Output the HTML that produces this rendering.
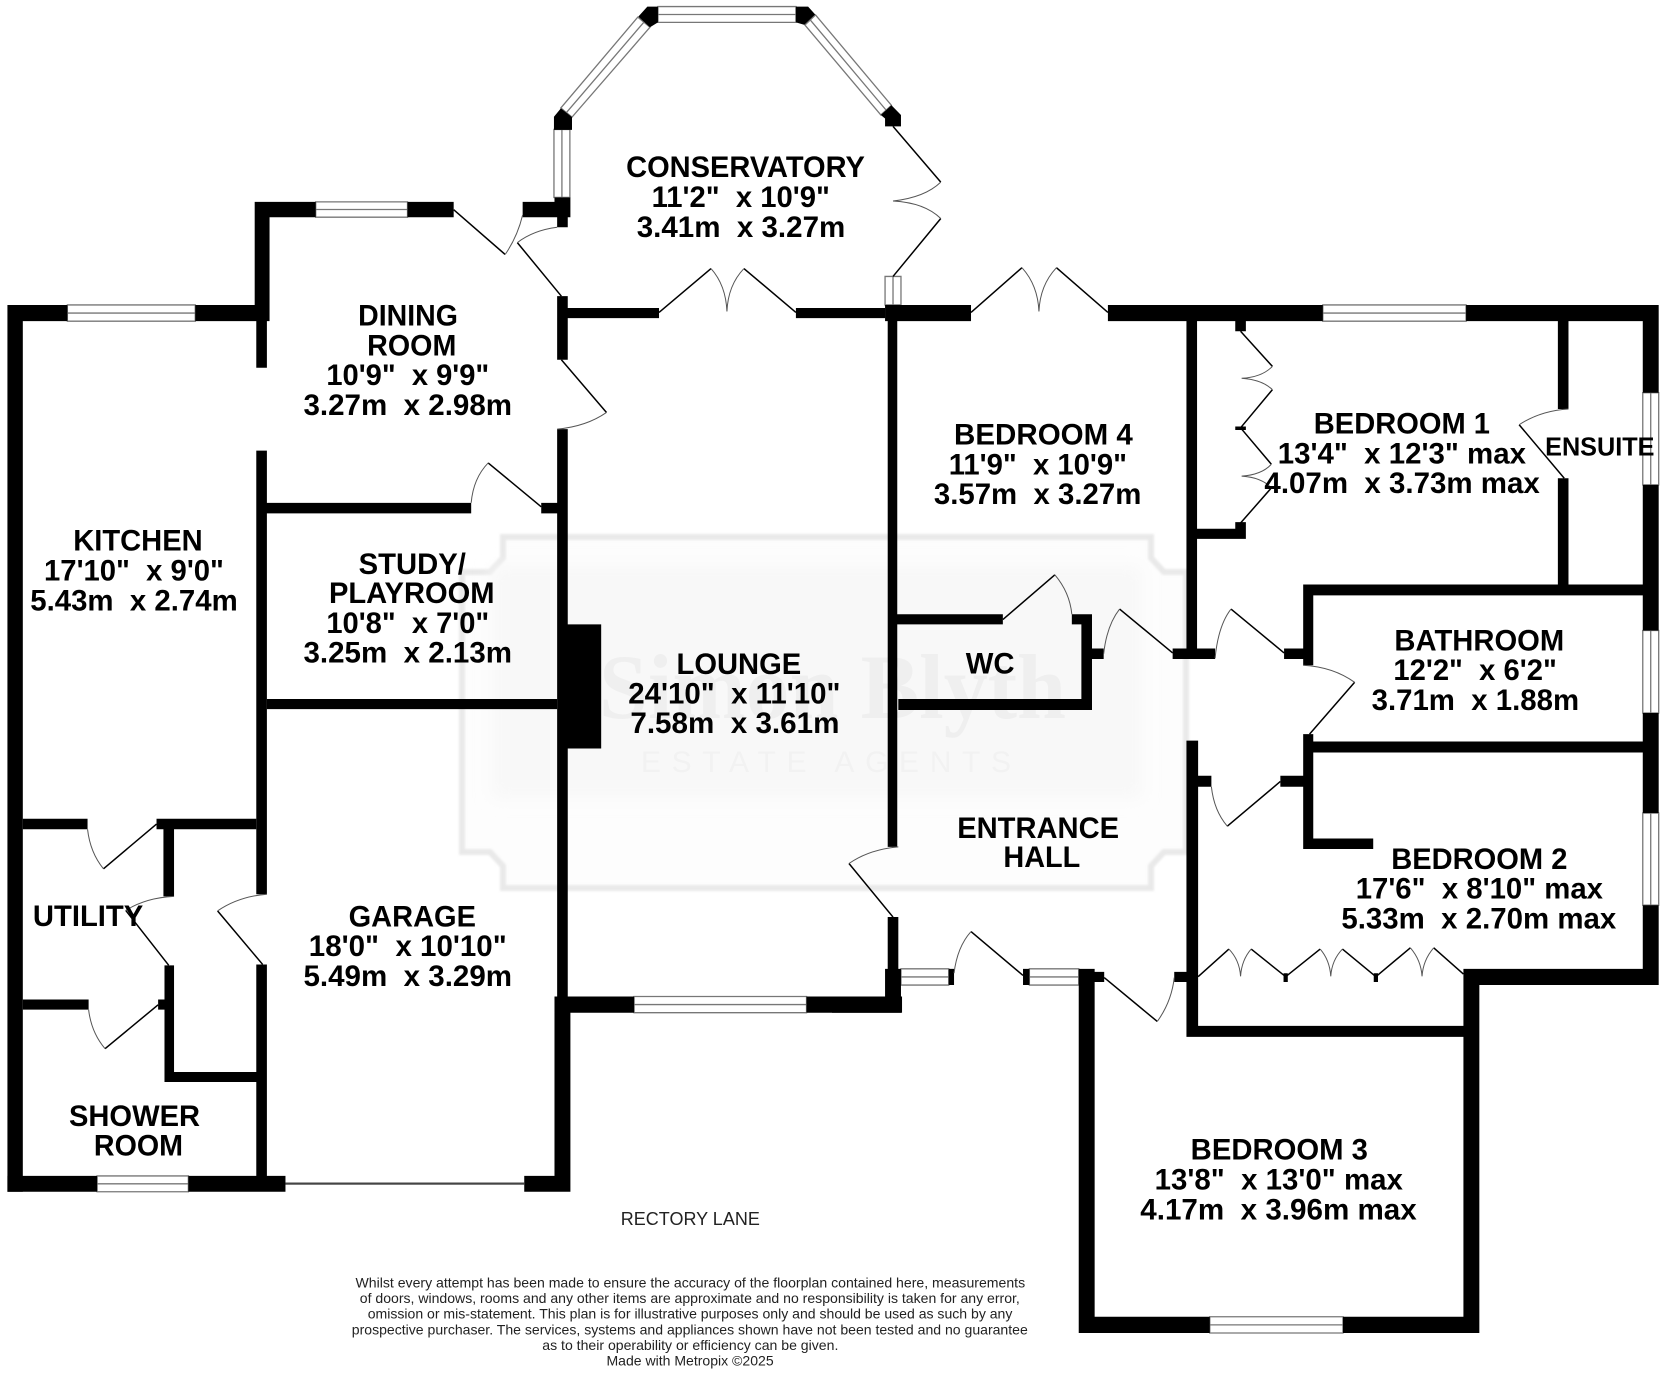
<!DOCTYPE html>
<html><head><meta charset="utf-8"><title>Floorplan</title>
<style>
html,body{margin:0;padding:0;background:#fff}
svg{display:block}
text{font-family:"Liberation Sans",sans-serif}
.t{font-size:68px;font-weight:700;fill:#000}
.e{font-size:60px;font-weight:700;fill:#000}
.d{font-size:32px;fill:#222}
.r{font-size:42px;fill:#222}
.lf{fill:none;stroke:#000;stroke-width:1.5;vector-effect:non-scaling-stroke}
.ar{fill:none;stroke:#555;stroke-width:1;vector-effect:non-scaling-stroke}
.wn{fill:#fff;stroke:#777;stroke-width:1.3;vector-effect:non-scaling-stroke}
</style></head><body>
<svg xmlns="http://www.w3.org/2000/svg" width="1664" height="1376" viewBox="0 0 1664 1376">
<defs><filter id="b1" x="-5%" y="-5%" width="110%" height="110%"><feGaussianBlur stdDeviation="1"/></filter>
<filter id="b2" x="-10%" y="-10%" width="120%" height="120%"><feGaussianBlur stdDeviation="8"/></filter></defs>
<rect width="1664" height="1376" fill="#fff"/>
<!-- watermark -->
<g>
<path d="M503 537H1151V558L1164 572H1186V852H1164L1151 866V888H503V866L490 852H462V572H490L503 558Z" fill="#fdfdfd" stroke="#e9e9e9" stroke-width="6" filter="url(#b1)"/>
<rect x="492" y="566" width="650" height="232" fill="#f8f8f8" filter="url(#b2)"/>
<text x="599" y="718" font-size="92" font-weight="700" textLength="467" lengthAdjust="spacingAndGlyphs" style="font-family:'Liberation Serif',serif" fill="#efefef">Simon Blyth</text>
<text x="641" y="772" font-size="30" textLength="370" lengthAdjust="spacing" fill="#f2f2f2">ESTATE AGENTS</text>
</g>
<g transform="scale(.53061,.43878)">
<!-- Q1 -->
<g>
<path class="wn" d="M1240 15H1500V51H1240ZM1240 33H1500"/>
<path class="wn" d="M1202 39L1225 62L1078 267L1057 246ZM1213.500 50.500L1067.500 256.500"/>
<path class="wn" d="M1044 295H1074V450H1044ZM1059 295V450"/>
<path class="wn" d="M595 460H768V495H595ZM595 477.500H768"/>
<path class="wn" d="M127 695H368V732H127ZM127 713.500H368"/>
<path fill="#000" d="M1203 38L1220 15H1240V51L1225 62Z M1500 15H1523L1537 34L1517 57L1500 51Z
M1057 247L1078 267V296H1044V266Z M1045 450H1075V495H1045Z M985 460H1060V495H985Z M1050 495H1070V518H1050Z
M1050 675H1070V820H1050Z M1070 702H1242V725H1070Z M1500 702H1668V725H1500Z
M480 460H595V495H480Z M768 460H855V495H768Z M480 460H508V730H480Z
M14 695H127V732H14Z M368 695H508V732H368Z M14 695H43V2716H14Z
M483 730H503V838H483Z M483 1027H503V2038H483Z M503 1146H888V1170H503Z M1020 1146H1050V1170H1020Z
M1050 978H1070V2271H1050Z M1070 1423H1133V1706H1070Z"/>
<path class="lf" d="M855 478L952 580M975 553L1058 675M1242 712L1340 612M1402 612L1500 712M1058 820L1143 940M920 1055L1020 1155"/>
<path class="ar" d="M952 580Q975 540 985 490M1050 518Q1005 525 975 553M1340 612Q1368 650 1370 710Q1372 650 1402 612M1143 940Q1105 972 1050 978M888 1146Q892 1090 920 1055"/>
</g>
<!-- Q2 -->
<g transform="translate(1568,0)">
<path class="wn" d="M-51 57L-31 34L112 240L92 262ZM-41 45.500L102 251"/>
<path class="wn" d="M100 630H130V695H100ZM115 630V695"/>
<path class="wn" d="M925 695H1195V732H925ZM925 713.500H1195"/>
<path class="wn" d="M1528 895H1558V1105H1528ZM1543 895V1105"/>
<path class="wn" d="M1528 1437H1558V1625H1528ZM1543 1437V1625"/>
<path fill="#000" d="M92 262L112 240L130 262V288H100V270Z M100 695H262V732H100Z M520 695H925V732H520Z M1195 695H1558V732H1195Z
M1528 732H1558V895H1528Z M1528 1105H1558V1437H1528Z M105 732H123V1930H105Z
M123 1400H322V1423H123Z M452 1400H490V1423H452Z M470 1400H490V1618H470Z M490 1478H512V1502H490Z
M642 1478H722V1502H642Z M668 732H688V1478H668Z M852 1478H890V1502H852Z M888 1332H907V1516H888Z M888 1332H1530V1357H888Z
M1368 732H1388V932H1368Z M1368 1090H1388V1332H1368Z
M688 1205H780V1228H688Z M760 1190H780V1228H760Z M760 732H780V755H760Z M760 972H780V980H760Z"/>
<path class="lf" d="M115 288L205 415M205 498L115 630M262 712L358 610M423 610L520 712M322 1412L420 1310M542 1388L642 1488M752 1388L852 1488M1295 968L1380 1090M985 1555L900 1673
M770 755L830 835M830 888L770 975M770 975L828 1058M828 1112L770 1192"/>
<path class="ar" d="M205 415Q175 450 115 458Q175 462 205 498M358 610Q388 650 390 710Q392 650 423 610M420 1310Q448 1350 452 1400M512 1490Q518 1425 542 1388M722 1500Q728 1425 752 1388M888 1516Q945 1520 985 1555M1388 932Q1335 936 1295 968
M830 835Q810 860 772 862Q810 865 830 888M828 1058Q810 1082 772 1085Q810 1088 828 1112"/>
</g>
<!-- Q3 -->
<g transform="translate(0,1568)">
<path class="wn" d="M183 1112H355V1148H183ZM183 1130H355"/>
<path class="wn" d="M1195 703H1520V740H1195ZM1195 721.500H1520"/>
<path fill="#000" d="M43 298H165V322H43Z M295 298H483V322H295Z M308 322H328V475H308Z M310 632H328V898H310Z M298 710H310V733H298Z M43 710H167V733H43Z M310 875H483V898H310Z
M483 630H503V1148H483Z M14 1112H183V1148H14Z M355 1112H538V1148H355Z M988 1112H1075V1148H988Z M1045 703H1075V1148H1045Z M1045 703H1195V740H1045Z M1520 703H1700V740H1520Z M503 25H1050V48H503Z"/>
<rect x="538" y="1127" width="450" height="5" fill="#444"/>
<path class="lf" d="M195 412L295 310M237 507L318 632M198 822L298 722M410 508L495 630"/>
<path class="ar" d="M165 322Q170 375 195 412M328 475Q275 478 237 507M167 733Q172 785 198 822M503 470Q450 475 410 508"/>
</g>
<!-- Q4 -->
<g transform="translate(1568,1568)">
<path class="wn" d="M130 640H220V677H130ZM130 658.500H220"/>
<path class="wn" d="M372 640H465V677H372ZM372 658.500H465"/>
<path class="wn" d="M1528 285H1558V495H1528ZM1543 285V495"/>
<path class="wn" d="M712 1433H963V1470H712ZM712 1451.500H963"/>
<path fill="#000" d="M0 703H130V740H0Z M100 640H130V740H100Z M220 640H230V677H220Z M360 640H372V677H360Z M465 640H495V1470H465Z M495 647H513V670H495Z M645 647H668V670H645Z
M668 120H690V795H668Z M690 200H715V225H690Z M845 200H890V225H845Z M888 105H907V367H888Z M907 343H1020V367H907Z M907 122H1530V147H907Z
M1528 57H1558V285H1528Z M1528 495H1558V677H1528Z M1190 640H1558V677H1190Z M1190 640H1220V1470H1190Z M668 770H1190V795H668Z
M465 1433H712V1470H465Z M963 1433H1220V1470H963Z M105 522H125V640H105Z M125 25H490V50H125Z M851 650H859V670H851Z M1021 650H1029V670H1021Z"/>
<path class="lf" d="M32 400L115 522M262 555L360 655M513 660L613 760M745 315L845 213
M690 658L748 595M790 595L855 658M855 658L920 595M962 595L1025 658M1025 658L1090 592M1134 592L1190 652"/>
<path class="ar" d="M125 362Q70 368 32 400M230 650Q236 590 262 555M613 760Q640 715 645 660M715 225Q720 280 745 315
M748 595Q768 620 770 657Q772 620 790 595M920 595Q938 620 940 657Q942 620 962 595M1090 592Q1110 620 1112 657Q1114 620 1134 592"/>
</g>
<!-- labels -->
<g>
<text class="t" x="1180" y="403" textLength="450" lengthAdjust="spacingAndGlyphs">CONSERVATORY</text>
<text class="t" x="1228" y="472" textLength="336" lengthAdjust="spacingAndGlyphs">11'2"&#160;&#160;x 10'9"</text>
<text class="t" x="1200" y="540" textLength="393" lengthAdjust="spacingAndGlyphs">3.41m&#160;&#160;x 3.27m</text>
<text class="t" x="675" y="742" textLength="188" lengthAdjust="spacingAndGlyphs">DINING</text>
<text class="t" x="692" y="810" textLength="168" lengthAdjust="spacingAndGlyphs">ROOM</text>
<text class="t" x="615" y="878" textLength="307" lengthAdjust="spacingAndGlyphs">10'9"&#160;&#160;x 9'9"</text>
<text class="t" x="572" y="946" textLength="393" lengthAdjust="spacingAndGlyphs">3.27m&#160;&#160;x 2.98m</text>
<text class="t" x="138" y="1255" textLength="244" lengthAdjust="spacingAndGlyphs">KITCHEN</text>
<text class="t" x="83" y="1323" textLength="339" lengthAdjust="spacingAndGlyphs">17'10"&#160;&#160;x 9'0"</text>
<text class="t" x="57" y="1391" textLength="391" lengthAdjust="spacingAndGlyphs">5.43m&#160;&#160;x 2.74m</text>
<text class="t" x="676" y="1308" textLength="202" lengthAdjust="spacingAndGlyphs">STUDY/</text>
<text class="t" x="620" y="1374" textLength="312" lengthAdjust="spacingAndGlyphs">PLAYROOM</text>
<text class="t" x="615" y="1443" textLength="307" lengthAdjust="spacingAndGlyphs">10'8"&#160;&#160;x 7'0"</text>
<text class="t" x="572" y="1510" textLength="393" lengthAdjust="spacingAndGlyphs">3.25m&#160;&#160;x 2.13m</text>
<text class="t" x="1275" y="1536" textLength="235" lengthAdjust="spacingAndGlyphs">LOUNGE</text>
<text class="t" x="1184" y="1603" textLength="400" lengthAdjust="spacingAndGlyphs">24'10"&#160;&#160;x 11'10"</text>
<text class="t" x="1188" y="1671" textLength="394" lengthAdjust="spacingAndGlyphs">7.58m&#160;&#160;x 3.61m</text>
<text class="t" x="1798" y="1013" textLength="337" lengthAdjust="spacingAndGlyphs">BEDROOM 4</text>
<text class="t" x="1788" y="1081" textLength="336" lengthAdjust="spacingAndGlyphs">11'9"&#160;&#160;x 10'9"</text>
<text class="t" x="1760" y="1149" textLength="391" lengthAdjust="spacingAndGlyphs">3.57m&#160;&#160;x 3.27m</text>
<text class="t" x="2476" y="988" textLength="332" lengthAdjust="spacingAndGlyphs">BEDROOM 1</text>
<text class="t" x="2408" y="1056" textLength="468" lengthAdjust="spacingAndGlyphs">13'4"&#160;&#160;x 12'3" max</text>
<text class="t" x="2383" y="1124" textLength="519" lengthAdjust="spacingAndGlyphs">4.07m&#160;&#160;x 3.73m max</text>
<text class="e" x="2912" y="1038" textLength="206" lengthAdjust="spacingAndGlyphs">ENSUITE</text>
<text class="t" x="1820" y="1535" textLength="92" lengthAdjust="spacingAndGlyphs">WC</text>
<text class="t" x="2628" y="1483" textLength="320" lengthAdjust="spacingAndGlyphs">BATHROOM</text>
<text class="t" x="2626" y="1550" textLength="308" lengthAdjust="spacingAndGlyphs">12'2"&#160;&#160;x 6'2"</text>
<text class="t" x="2585" y="1618" textLength="391" lengthAdjust="spacingAndGlyphs">3.71m&#160;&#160;x 1.88m</text>
<text class="t" x="62" y="2110" textLength="208" lengthAdjust="spacingAndGlyphs">UTILITY</text>
<text class="t" x="657" y="2111" textLength="240" lengthAdjust="spacingAndGlyphs">GARAGE</text>
<text class="t" x="582" y="2179" textLength="373" lengthAdjust="spacingAndGlyphs">18'0"&#160;&#160;x 10'10"</text>
<text class="t" x="572" y="2247" textLength="393" lengthAdjust="spacingAndGlyphs">5.49m&#160;&#160;x 3.29m</text>
<text class="t" x="130" y="2566" textLength="247" lengthAdjust="spacingAndGlyphs">SHOWER</text>
<text class="t" x="177" y="2634" textLength="168" lengthAdjust="spacingAndGlyphs">ROOM</text>
<text class="t" x="1804" y="1910" textLength="305" lengthAdjust="spacingAndGlyphs">ENTRANCE</text>
<text class="t" x="1891" y="1976" textLength="145" lengthAdjust="spacingAndGlyphs">HALL</text>
<text class="t" x="2622" y="1980" textLength="332" lengthAdjust="spacingAndGlyphs">BEDROOM 2</text>
<text class="t" x="2555" y="2048" textLength="466" lengthAdjust="spacingAndGlyphs">17'6"&#160;&#160;x 8'10" max</text>
<text class="t" x="2528" y="2116" textLength="518" lengthAdjust="spacingAndGlyphs">5.33m&#160;&#160;x 2.70m max</text>
<text class="t" x="2244" y="2643" textLength="334" lengthAdjust="spacingAndGlyphs">BEDROOM 3</text>
<text class="t" x="2176" y="2711" textLength="468" lengthAdjust="spacingAndGlyphs">13'8"&#160;&#160;x 13'0" max</text>
<text class="t" x="2149" y="2779" textLength="521" lengthAdjust="spacingAndGlyphs">4.17m&#160;&#160;x 3.96m max</text>
<text class="r" x="1170" y="2792" textLength="262" lengthAdjust="spacingAndGlyphs">RECTORY LANE</text>
<text class="d" x="670" y="2934" textLength="1262" lengthAdjust="spacingAndGlyphs">Whilst every attempt has been made to ensure the accuracy of the floorplan contained here, measurements</text>
<text class="d" x="678" y="2970" textLength="1244" lengthAdjust="spacingAndGlyphs">of doors, windows, rooms and any other items are approximate and no responsibility is taken for any error,</text>
<text class="d" x="693" y="3005" textLength="1215" lengthAdjust="spacingAndGlyphs">omission or mis-statement. This plan is for illustrative purposes only and should be used as such by any</text>
<text class="d" x="663" y="3041" textLength="1274" lengthAdjust="spacingAndGlyphs">prospective purchaser. The services, systems and appliances shown have not been tested and no guarantee</text>
<text class="d" x="1022" y="3077" textLength="558" lengthAdjust="spacingAndGlyphs">as to their operability or efficiency can be given.</text>
<text class="d" x="1143" y="3112" textLength="315" lengthAdjust="spacingAndGlyphs">Made with Metropix ©2025</text>
</g>
</g>
</svg>
</body></html>
